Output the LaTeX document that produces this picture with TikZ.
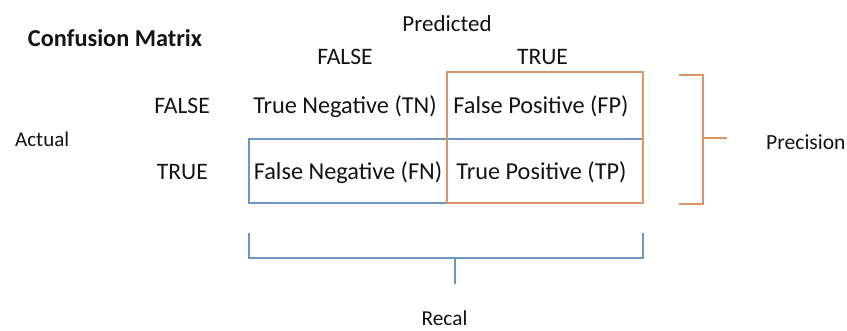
\documentclass[tikz,border=0pt]{standalone}
\usepackage{fontspec}
\setmainfont{Carlito}
\definecolor{orng}{RGB}{220,150,100}
\definecolor{blu}{RGB}{110,150,195}
\definecolor{txt}{RGB}{20,20,20}
\newcommand{\fsz}[1]{\fontsize{#1}{#1}\selectfont}
\begin{document}
\begin{tikzpicture}[x=1pt,y=-1pt,
  lbl/.style={inner sep=0pt,text=txt,anchor=base},
  cell/.style={lbl,font=\fsz{24.3}},
  hdr/.style={lbl,font=\fsz{23.6}},
  side/.style={lbl,font=\fsz{21.6}},
  obox/.style={draw=orng,line width=1.4pt},
  bbox/.style={draw=blu,line width=1.4pt},
  obr/.style={draw=orng,line width=1.4pt},
  bbr/.style={draw=blu,line width=1.8pt}]
\useasboundingbox[fill=white] (0,0) rectangle (847,331);
% text
\node[lbl,font=\fsz{24.3}\bfseries] (cm) at (115,47) {Confusion Matrix};
\node[lbl,font=\fsz{23}] (pred) at (447,32) {Predicted};
\node[hdr] (pf) at (345,64.5) {FALSE};
\node[hdr] (pt) at (542.5,64.5) {TRUE};
\node[hdr,anchor=base east] (af) at (210,114) {FALSE};
\node[hdr,anchor=base east] (at) at (208,180) {TRUE};
\node[side,font=\fsz{21},anchor=base west] (act) at (15,147) {Actual};
\node[cell] (tn) at (345,114) {True Negative (TN)};
\node[cell] (fp) at (541,114) {False Positive (FP)};
\node[cell] (fn) at (348,180) {False Negative (FN)};
\node[cell] (tp) at (541.5,180) {True Positive (TP)};
\node[side,anchor=base west] (prec) at (766,150) {Precision};
\node[side,font=\fsz{21.3}] (rec) at (444.5,326) {Recal};
% boxes
\coordinate (b1) at (249,139);
\coordinate (b2) at (447,203);
\coordinate (o1) at (447,72);
\coordinate (o2) at (643,203);
\draw[bbox] (b1) rectangle (b2);
\draw[bbox] (447,139) -- (643,139);
\draw[obox] (o1) rectangle (o2);
% precision bracket
\coordinate (p1) at (679,75);
\coordinate (p2) at (703,75);
\coordinate (p3) at (703,204);
\coordinate (p4) at (679,204);
\coordinate (pm) at (703,138);
\coordinate (pe) at (727,138);
\draw[obr] (p1) -- (p2) -- (p3) -- (p4);
\draw[obr] (pm) -- (pe);
% recall bracket
\coordinate (r1) at (249,233);
\coordinate (r2) at (249,258);
\coordinate (r3) at (643,258);
\coordinate (r4) at (643,233);
\coordinate (rm) at (455,258);
\coordinate (re) at (455,284);
\draw[bbr] (r1) -- (r2) -- (r3) -- (r4);
\draw[bbr] (rm) -- (re);
\end{tikzpicture}
\end{document}
